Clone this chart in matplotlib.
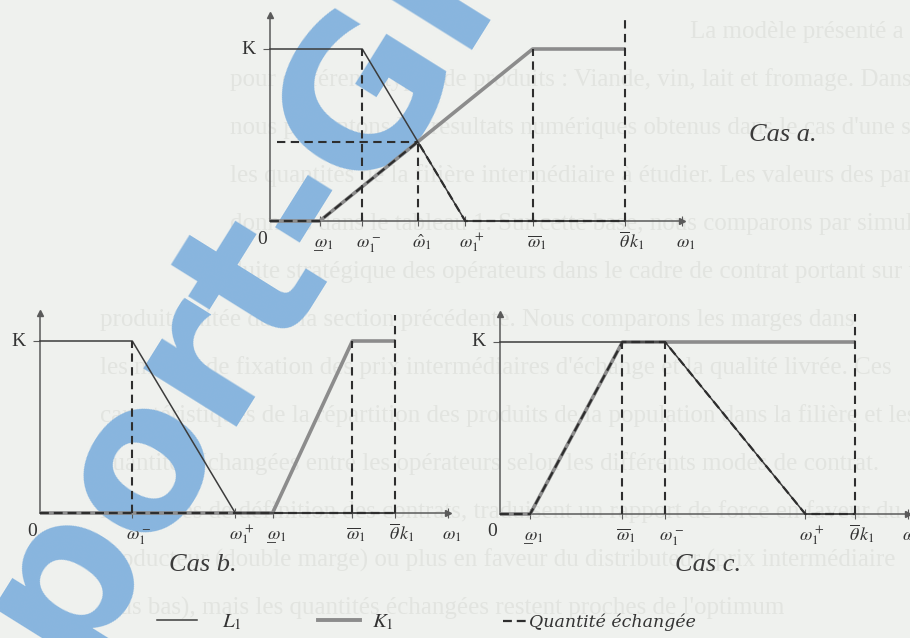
import numpy as np
import matplotlib.pyplot as plt
from matplotlib.lines import Line2D

plt.rcParams['mathtext.fontset'] = 'stix'

W, H = 910, 638
SX, SY = 355.0, 172.0          # pixels per unit on the omega axis / per K

# --- cas a : positions sur l'axe des omega (theta*k1 = 1) ---
a_lo, a_minus, a_plus, a_bar, a_theta = 0.14, 0.26, 0.55, 0.74, 1.0
a_xend, a_yend, a_vtop = 1.16, 1.20, 1.18
# --- cas b ---
b_minus, b_plus, b_lo, b_bar, b_theta = 0.26, 0.55, 0.655, 0.88, 1.0
b_xend, b_yend, b_vtop = 1.15, 1.16, 1.15
# --- cas c ---
c_lo, c_bar, c_minus, c_plus, c_theta = 0.085, 0.345, 0.465, 0.86, 1.0
c_xend, c_yend, c_vtop = 1.15, 1.16, 1.17
K = 1.0

# intersection L1 / K1 in cas a (omega chapeau)
sK = K / (a_bar - a_lo)
sL = K / (a_plus - a_minus)
a_hat = (sK * a_lo + sL * a_plus) / (sK + sL)
q_hat = sK * (a_hat - a_lo)

body = [
    "La modèle présenté a été appliqué à l'étude de situations de filière",
    "pour différents types de produits : Viande, vin, lait et fromage. Dans cette section,",
    "nous présentons les résultats numériques obtenus dans le cas d'une simulation qui planifie",
    "les quantités de la filière intermédiaire à étudier. Les valeurs des paramètres utilisés sont",
    "données dans le tableau 1. Sur cette base, nous comparons par simulation la con",
    "duite stratégique des opérateurs dans le cadre de contrat portant sur un",
    "produit traitée dans la section précédente. Nous comparons les marges dans",
    "les modes de fixation des prix intermédiaires d'échange et la qualité livrée. Ces",
    "caractéristiques de la répartition des produits de la population dans la filière et les",
    "quantités échangées entre les opérateurs selon les différents modes de contrat.",
    "Les règles de définition des contrats, traduisent un rapport de force en faveur du",
    "producteur (double marge) ou plus en faveur du distributeur (prix intermédiaire",
    "plus bas), mais les quantités échangées restent proches de l'optimum",
]
body_x = [690, 230, 230, 230, 230, 230, 100, 100, 100, 100, 100, 100, 100]
body_y = [32, 80, 128, 176, 224, 272, 320, 368, 416, 464, 512, 560, 608]

fig = plt.figure(figsize=(W / 100, H / 100), dpi=100)
fig.patch.set_facecolor('#eff1ee')

bg = fig.add_axes([0, 0, 1, 1])
bg.set_xlim(0, W)
bg.set_ylim(H, 0)
bg.axis('off')

for x, y, t in zip(body_x, body_y, body):
    bg.text(x, y, t, fontsize=18, family='Liberation Serif', color='#e2e4e0',
            va='center', ha='left', zorder=0)

# filigrane
bg.text(-160, 1033, 'Rapport-Gratuit', fontsize=145, family='DejaVu Sans',
        weight='bold', color='#88b5de', rotation=58, rotation_mode='anchor',
        ha='left', va='baseline', zorder=1)

LC = '#3c3c3c'
KC = '#8c8c8c'
AX = '#5a5a5a'


def panel(ox, oy, xend, yend):
    xl = (-0.15, xend)
    yl = (-0.30, yend)
    left = ox + xl[0] * SX
    right = ox + xl[1] * SX
    bottom = oy - yl[0] * SY
    top = oy - yl[1] * SY
    ax = fig.add_axes([left / W, 1 - bottom / H, (right - left) / W, (bottom - top) / H])
    ax.set_xlim(*xl)
    ax.set_ylim(*yl)
    ax.patch.set_alpha(0)
    for s in ['top', 'right']:
        ax.spines[s].set_visible(False)
    ax.spines['bottom'].set_position(('data', 0))
    ax.spines['left'].set_position(('data', 0))
    ax.spines['bottom'].set_bounds(0, xend)
    ax.spines['left'].set_bounds(0, yend)
    for s in ['bottom', 'left']:
        ax.spines[s].set_color(AX)
        ax.spines[s].set_linewidth(1.1)
    ax.plot(1, 0, '>', color=AX, ms=4, transform=ax.get_yaxis_transform(), clip_on=False)
    ax.plot(0, 1, '^', color=AX, ms=4, transform=ax.get_xaxis_transform(), clip_on=False)
    ax.set_yticks([K])
    ax.set_yticklabels([])
    ax.tick_params(axis='y', direction='out', length=5, color=AX)
    ax.tick_params(axis='x', direction='inout', length=7, color=AX, labelbottom=False)
    ax.annotate('K', (0, K), xytext=(-22, 0), textcoords='offset pixels', ha='center',
                va='center', fontsize=14, family='Liberation Serif', color='#333')
    ax.annotate('0', (0, 0), xytext=(-8, -18), textcoords='offset pixels', ha='center',
                va='center', fontsize=14, family='Liberation Serif', color='#333')
    return ax


def omega_labels(ax, xs, labels, under=None):
    ax.set_xticks(xs)
    for x, lab in zip(xs, labels):
        ax.annotate(lab, (x, 0), xytext=(-6, -27), textcoords='offset pixels',
                    ha='left', va='baseline', fontsize=13, color='#333')
    if under is not None:
        ax.annotate(r'$\_$', (under, 0), xytext=(-7, -28), textcoords='offset pixels',
                    ha='left', va='baseline', fontsize=13, color='#333')


def curves(ax, Lx, Ly, Kx, Ky, Qx, Qy, vx, vy0, vy1, hq=None):
    ax.plot(Kx, Ky, color=KC, lw=2.6, solid_capstyle='butt', zorder=3)
    ax.plot(Lx, Ly, color=LC, lw=1.1, zorder=4)
    ax.plot(Qx, Qy, color='#2e2e2e', lw=1.6, dashes=(4, 2.2), zorder=5)
    ax.vlines(vx, vy0, vy1, colors='#2e2e2e', lw=1.5, linestyles=(0, (4, 2.6)), zorder=5)
    if hq is not None:
        ax.hlines(hq[1], 0.02, hq[0], colors='#2e2e2e', lw=1.5, linestyles=(0, (4, 2.6)), zorder=5)


# ---------------- Cas a ----------------
axa = panel(270, 221, a_xend, a_yend)
curves(axa,
       [0, a_minus, a_plus, a_theta], [K, K, 0, 0],
       [0, a_lo, a_bar, a_theta], [0, 0, K, K],
       [0, a_lo, a_hat, a_plus, a_theta], [0, 0, q_hat, 0, 0],
       [a_minus, a_hat, a_bar, a_theta], [0, 0, 0, 0], [K, q_hat, K, a_vtop],
       hq=(a_hat, q_hat))
omega_labels(axa, [a_lo, a_minus, a_hat, a_plus, a_bar, a_theta, a_xend],
             [r'$\omega_1$', r'$\omega_1^-$', r'$\hat{\omega}_1$', r'$\omega_1^+$',
              r'$\overline{\omega}_1$', r'$\overline{\theta}\,k_1$', r'$\omega_1$'],
             under=a_lo)

# ---------------- Cas b ----------------
axb = panel(40, 513, b_xend, b_yend)
curves(axb,
       [0, b_minus, b_plus, b_theta], [K, K, 0, 0],
       [0, b_lo, b_bar, b_theta], [0, 0, K, K],
       [0, b_theta], [0, 0],
       [b_minus, b_bar, b_theta], [0, 0, 0], [K, K, b_vtop])
omega_labels(axb, [b_minus, b_plus, b_lo, b_bar, b_theta, b_xend],
             [r'$\omega_1^-$', r'$\omega_1^+$', r'$\omega_1$',
              r'$\overline{\omega}_1$', r'$\overline{\theta}\,k_1$', r'$\omega_1$'],
             under=b_lo)

# ---------------- Cas c ----------------
axc = panel(500, 514, c_xend, c_yend)
curves(axc,
       [0, c_minus, c_plus, c_theta], [K, K, 0, 0],
       [0, c_lo, c_bar, c_theta], [0, 0, K, K],
       [0, c_lo, c_bar, c_minus, c_plus, c_theta], [0, 0, K, K, 0, 0],
       [c_bar, c_minus, c_theta], [0, 0, 0], [K, K, c_vtop])
omega_labels(axc, [c_lo, c_bar, c_minus, c_plus, c_theta, c_xend],
             [r'$\omega_1$', r'$\overline{\omega}_1$', r'$\omega_1^-$', r'$\omega_1^+$',
              r'$\overline{\theta}\,k_1$', r'$\omega_1$'],
             under=c_lo)

for x, y, t in [(783, 135, 'Cas a.'), (203, 565, 'Cas b.'), (708, 565, 'Cas c.')]:
    bg.text(x, y, t, fontsize=19, family='Liberation Serif', style='italic',
            color='#3a3a3a', ha='center', va='center', zorder=6)

# légende
items = [
    (Line2D([], [], color=LC, lw=1.1), r'$L_{\mathit{1}}$', 157, 40, 25),
    (Line2D([], [], color=KC, lw=2.8), r'$K_{\mathit{1}}$', 318, 42, 12),
    (Line2D([], [], color='#2e2e2e', lw=1.6, dashes=(4, 2.2)), 'Quantité échangée', 503, 24, 2),
]
for h, lab, x0, hl, pad in items:
    fs = 12.5 if lab.startswith('Q') else 15
    fam = 'DejaVu Serif' if lab.startswith('Q') else 'Liberation Serif'
    fpx = fs * 100 / 72
    leg = fig.legend([h], [lab], loc='center left', bbox_to_anchor=(x0 / W, 1 - 622 / H),
                     frameon=False, handlelength=hl / fpx, handletextpad=pad / fpx,
                     borderpad=0, borderaxespad=0,
                     prop={'size': fs, 'family': fam, 'style': 'italic'})
    for t in leg.get_texts():
        t.set_color('#333')

fig.savefig('out.png', dpi=100, facecolor=fig.get_facecolor())
